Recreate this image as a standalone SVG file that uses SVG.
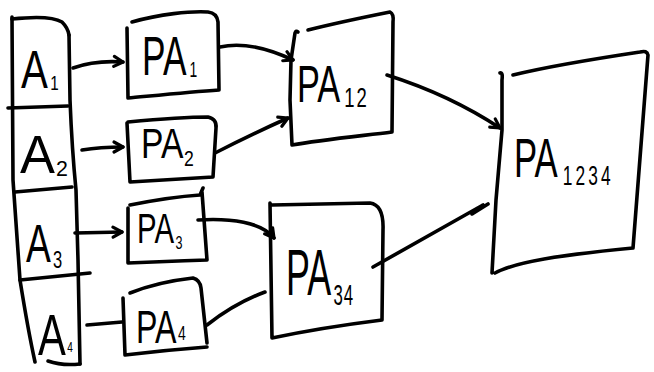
<svg xmlns="http://www.w3.org/2000/svg" width="654" height="372" viewBox="0 0 654 372">
  <defs>
    <style>
      .ink { fill: none; stroke: #000; stroke-width: 3.6; stroke-linecap: round; stroke-linejoin: round; }
      .lbl { font-family: "Liberation Sans", Arial, sans-serif; fill: #000; }
    </style>
    <marker id="head" viewBox="-12 -8 16 16" markerWidth="16" markerHeight="16" markerUnits="userSpaceOnUse" orient="auto" refX="0" refY="0">
      <path d="M-9,-5 L0,0 L-9,5" fill="none" stroke="#000" stroke-width="3.2" stroke-linecap="round" stroke-linejoin="round"/>
    </marker>
  </defs>
  <rect width="654" height="372" fill="#fff"/>

  <!-- input column A1..A4 -->
  <g id="inputs">
    <path class="ink" d="M12,17 L13,180 L20,280 Q28,330 35,362"/>
    <path class="ink" d="M12,19 C30,17 52,16 62,22 Q68,28 69,35"/>
    <path class="ink" d="M69,35 L70,100 Q72,150 76,190 L78,260 L80,364"/>
    <path class="ink" d="M48,361 Q62,366 80,364"/>
    <path class="ink" d="M8,108 L68,106"/>
    <path class="ink" d="M15,192 L72,187"/>
    <path class="ink" d="M20,280 L90,273"/>
    <g id="A1">
      <text class="lbl" transform="translate(21,88) scale(0.76,1)" font-size="53">A<tspan font-size="20" dx="3" dy="2">1</tspan></text>
    </g>
    <g id="A2">
      <text class="lbl" transform="translate(20,173) scale(0.97,1)" font-size="54">A<tspan font-size="22" dx="1" dy="3">2</tspan></text>
    </g>
    <g id="A3">
      <text class="lbl" transform="translate(26,262) scale(0.69,1)" font-size="54">A<tspan font-size="24" dx="3" dy="6">3</tspan></text>
    </g>
    <g id="A4">
      <text class="lbl" transform="translate(38,355) scale(0.72,1)" font-size="58">A<tspan font-size="14" dx="2" dy="-3">4</tspan></text>
    </g>
  </g>

  <g id="PA1">
    <path class="ink" d="M132,22 C160,14 190,11 208,12 Q217,13 218,22 L219,90 C190,92 150,96 128,98 L127,28"/>
    <text class="lbl" transform="translate(142,75) scale(0.63,1)" font-size="56">PA<tspan font-size="22" dx="5" dy="2">1</tspan></text>
  </g>

  <g id="PA2">
    <path class="ink" d="M128,122 C160,119 190,117 208,117 Q217,119 216,128 L213,177 C180,179 150,181 130,182 L127,123"/>
    <text class="lbl" transform="translate(141,158) scale(0.8,1)" font-size="42">PA<tspan font-size="22" dx="1" dy="8">2</tspan></text>
  </g>

  <g id="PA3">
    <path class="ink" d="M130,205 C155,200 185,196 200,195 L203,188 M202,192 L207,260 C180,261 150,262 128,263 L128,208"/>
    <text class="lbl" transform="translate(137,243) scale(0.7,1)" font-size="42">PA<tspan font-size="18" dx="2" dy="6">3</tspan></text>
  </g>

  <g id="PA4">
    <path class="ink" d="M130,293 C150,285 175,280 193,278 Q200,280 201,288 L207,343 M207,347 C180,349 150,352 125,355 L123,298"/>
    <text class="lbl" transform="translate(136,343) scale(0.7,1)" font-size="46">PA<tspan font-size="20" dx="2" dy="-3">4</tspan></text>
  </g>

  <g id="PA12">
    <path class="ink" d="M308,30 C340,22 370,16 390,12 Q394,14 393,22 L392,132 C360,136 320,140 292,145 L290,100 L291,60 L295,33 Q296,30 298,32"/>
    <text class="lbl" transform="translate(297,102) scale(0.66,1)" font-size="52">PA<tspan font-size="28" dx="6" dy="5" letter-spacing="3">12</tspan></text>
  </g>

  <g id="PA34">
    <path class="ink" d="M270,203 L272,338 C310,330 350,324 382,320 L383,230 Q384,205 370,203 L272,205"/>
    <text class="lbl" transform="translate(286,295) scale(0.56,1)" font-size="64">PA<tspan font-size="30" dx="4" dy="10" letter-spacing="2">34</tspan></text>
  </g>

  <g id="PA1234">
    <path class="ink" d="M500,73 Q503,72 502,80 L502,130 L496,200 L492,273 M495,273 C515,262 560,255 633,248 L648,55 Q647,50 640,52 C600,58 550,66 513,75"/>
    <text class="lbl" transform="translate(514,177) scale(0.62,1)" font-size="56">PA<tspan font-size="28" dx="8" dy="8" letter-spacing="5">1234</tspan></text>
  </g>

  <g id="connectors">
    <path class="ink" d="M73,68 Q95,60 123,62" marker-end="url(#head)"/>
    <path class="ink" d="M82,150 Q100,147 123,147" marker-end="url(#head)"/>
    <path class="ink" d="M75,233 L122,232" marker-end="url(#head)"/>
    <path class="ink" d="M87,325 L122,322"/>
    <path class="ink" d="M220,47 Q250,40 293,60" marker-end="url(#head)"/>
    <path class="ink" d="M215,153 Q250,135 288,118" marker-end="url(#head)"/>
    <path class="ink" d="M198,220 C230,218 262,222 274,238" marker-end="url(#head)"/>
    <path class="ink" d="M207,325 Q235,303 265,292"/>
    <path class="ink" d="M387,75 Q450,95 500,128" marker-end="url(#head)"/>
    <path class="ink" d="M373,267 L467,214 L483,205 L472,214 L488,204"/>
  </g>
</svg>
